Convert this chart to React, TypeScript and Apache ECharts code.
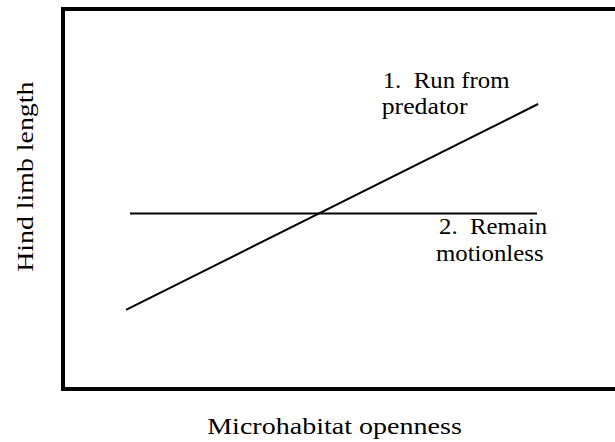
import React, { useEffect, useRef } from "react";
import * as echarts from "echarts";

// Data (axis units 0–100 on both axes, axes hidden)
const runX = [11.35, 85.6];
const runY = [20.8, 75.0];
const stayX = [12.07, 85.4];
const stayY = [46.2, 46.2];

const xTitle = "Microhabitat openness";
const yTitle = "Hind limb length";
const runLabel = ["1.  Run from", "predator"];
const stayLabel = ["2.  Remain", "motionless"];

const FONT = "Liberation Serif";

export default function App() {
  const ref = useRef<HTMLDivElement>(null);
  useEffect(() => {
    if (!ref.current) return;
    const chart = echarts.init(ref.current, undefined, { renderer: "svg" });
    const txt = (text: string, x: number, y: number, opts: any = {}) => ({
      type: "text",
      x,
      y,
      scaleX: opts.scaleX ?? 1,
      scaleY: opts.scaleY ?? 1,
      rotation: opts.rotation ?? 0,
      style: {
        text,
        fill: "#000",
        fontFamily: FONT,
        fontSize: opts.size ?? 23,
        textAlign: opts.align ?? "left",
        textVerticalAlign: "middle",
      },
    });
    chart.setOption({
      animation: false,
      grid: {
        left: 63,
        top: 9,
        right: -3,
        bottom: 53,
        outerBoundsMode: "none",
        show: true,
        borderColor: "#000",
        borderWidth: 4,
        backgroundColor: "transparent",
      },
      xAxis: { type: "value", min: 0, max: 100, show: false },
      yAxis: { type: "value", min: 0, max: 100, show: false },
      series: [
        {
          type: "line",
          data: runX.map((x, i) => [x, runY[i]]),
          symbol: "none",
          lineStyle: { color: "#000", width: 2 },
        },
        {
          type: "line",
          data: stayX.map((x, i) => [x, stayY[i]]),
          symbol: "none",
          lineStyle: { color: "#000", width: 2 },
        },
      ],
      graphic: [
        txt(xTitle, 334.5, 426.5, { align: "center", scaleX: 1.22 }),
        txt(yTitle, 25.5, 176.7, { align: "center", scaleX: 1.21, rotation: Math.PI / 2 }),
        txt(runLabel[0], 382.7, 80.5, { scaleX: 1.08 }),
        txt(runLabel[1], 381.7, 105.5, { scaleX: 1.12 }),
        txt(stayLabel[0], 439, 226.2, { scaleX: 1.08 }),
        txt(stayLabel[1], 436, 253.5, { scaleX: 1.08 }),
      ],
    });
    return () => chart.dispose();
  }, []);
  return (
    <div
      ref={ref}
      style={{ position: "fixed", left: 0, top: 0, width: 615, height: 442, background: "#fff" }}
    />
  );
}
